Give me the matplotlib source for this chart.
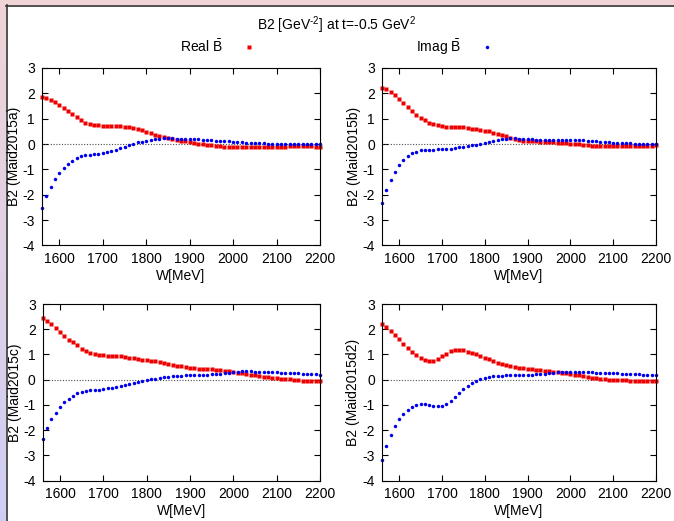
import matplotlib
matplotlib.use('Agg')
import matplotlib.pyplot as plt
import numpy as np

plt.rcParams['font.family'] = ['Liberation Sans', 'DejaVu Sans']
plt.rcParams['mathtext.fontset'] = 'custom'
plt.rcParams['mathtext.rm'] = 'Liberation Sans'
plt.rcParams['mathtext.it'] = 'Liberation Sans'
plt.rcParams['axes.unicode_minus'] = False

# W grid in MeV, 10 MeV steps
w = np.arange(1560, 2201, 10)

real_a = [1.86, 1.81, 1.75, 1.65, 1.55, 1.43, 1.31, 1.19, 1.06, 0.94,
          0.85, 0.79, 0.76, 0.76, 0.72, 0.72, 0.72, 0.72, 0.70, 0.68,
          0.67, 0.62, 0.58, 0.54, 0.49, 0.43, 0.35, 0.30, 0.26, 0.22,
          0.18, 0.16, 0.13,
          0.11, 0.07, 0.04, 0.01, -0.01, -0.03, -0.05, -0.07, -0.08, -0.10,
          -0.10, -0.11, -0.11, -0.11, -0.11, -0.11, -0.11, -0.11, -0.11, -0.11,
          -0.11, -0.10, -0.10, -0.10, -0.09, -0.09, -0.09, -0.09, -0.09, -0.09,
          -0.10, -0.10]
imag_a = [-2.51, -2.06, -1.68, -1.39, -1.14, -0.94, -0.77, -0.66, -0.56, -0.49,
          -0.45, -0.42, -0.41, -0.38, -0.35, -0.31, -0.28, -0.22, -0.17, -0.10,
          -0.04, 0.01, 0.07, 0.10, 0.14, 0.17, 0.20, 0.21, 0.22, 0.22,
          0.22, 0.21, 0.21, 0.20, 0.20, 0.19, 0.18, 0.17, 0.16, 0.15,
          0.14, 0.13, 0.12, 0.11, 0.10, 0.08, 0.07, 0.06, 0.05, 0.04,
          0.03, 0.03, 0.02, 0.02, 0.01, 0.01, 0.01, 0.01, 0.01, 0.01,
          0.01, 0.01, 0.01, 0.01, 0.01]

real_b = [2.22, 2.17, 2.07, 1.94, 1.78, 1.63, 1.47, 1.31, 1.15, 1.02,
          0.94, 0.84, 0.80, 0.76, 0.72, 0.68, 0.68, 0.66, 0.66, 0.66,
          0.63, 0.58, 0.58, 0.54, 0.52, 0.50, 0.45, 0.41, 0.35, 0.30,
          0.25, 0.20, 0.16,
          0.14, 0.13, 0.12, 0.11, 0.10, 0.09, 0.08, 0.07, 0.06, 0.05,
          0.04, 0.02, 0.01, -0.01, -0.03, -0.05, -0.07, -0.09,
          -0.09, -0.09, -0.09, -0.09, -0.09, -0.09, -0.09, -0.09, -0.09, -0.09,
          -0.08, -0.07, -0.06, -0.05]
imag_b = [-2.31, -1.82, -1.43, -1.10, -0.84, -0.64, -0.49, -0.37, -0.30, -0.25,
          -0.22, -0.22, -0.22, -0.21, -0.21, -0.20, -0.18, -0.16, -0.13, -0.10,
          -0.08, -0.05, -0.03, 0.00, 0.04, 0.08, 0.12, 0.16, 0.18, 0.21,
          0.22, 0.22,
          0.21, 0.20, 0.19, 0.18, 0.17, 0.17, 0.16, 0.16, 0.16, 0.16,
          0.16, 0.16, 0.16, 0.16, 0.16, 0.15, 0.14, 0.13, 0.12, 0.10,
          0.08, 0.07, 0.05, 0.04, 0.04, 0.03, 0.03, 0.02, 0.02, 0.01,
          0.01, 0.00, 0.00]

real_c = [2.43, 2.33, 2.19, 2.04, 1.87, 1.72, 1.59, 1.48, 1.36, 1.23,
          1.13, 1.05, 1.01, 0.99, 0.99, 0.95, 0.95, 0.93, 0.92, 0.89,
          0.87, 0.87, 0.83, 0.79, 0.79, 0.73, 0.72, 0.71, 0.67, 0.63,
          0.59, 0.56, 0.53,
          0.49, 0.47, 0.45, 0.43, 0.42, 0.41, 0.41, 0.40, 0.38, 0.36,
          0.34, 0.32, 0.28, 0.25, 0.22, 0.19, 0.17, 0.15, 0.12, 0.09,
          0.07, 0.05, 0.04, 0.04, 0.02, -0.01, -0.03, -0.04, -0.05, -0.05,
          -0.05, -0.05]
imag_c = [-2.37, -1.93, -1.56, -1.31, -1.08, -0.89, -0.76, -0.64, -0.53, -0.47,
          -0.44, -0.41, -0.41, -0.40, -0.37, -0.35, -0.32, -0.28, -0.24, -0.20,
          -0.16, -0.12, -0.09, -0.05, -0.01, 0.01, 0.04, 0.07, 0.11, 0.12,
          0.13, 0.15, 0.16,
          0.17, 0.18, 0.19, 0.19, 0.20, 0.20, 0.21, 0.22, 0.24, 0.26,
          0.28, 0.30, 0.32, 0.33, 0.33, 0.33, 0.32, 0.32, 0.31, 0.30,
          0.29, 0.29, 0.28, 0.27, 0.27, 0.26, 0.25, 0.24, 0.23, 0.22,
          0.21, 0.20]

real_d = [2.19, 2.07, 1.92, 1.76, 1.60, 1.43, 1.27, 1.11, 0.99, 0.87,
          0.79, 0.75, 0.75, 0.83, 0.92, 1.03, 1.12, 1.16, 1.19, 1.16,
          1.11, 1.05, 1.00, 0.93, 0.87, 0.80, 0.73, 0.68, 0.63, 0.59,
          0.55, 0.51, 0.47,
          0.45, 0.43, 0.41, 0.39, 0.37, 0.36, 0.34, 0.32, 0.30, 0.28,
          0.25, 0.23, 0.20, 0.17, 0.14, 0.11, 0.08, 0.05, 0.03, 0.01,
          0.00, -0.01, -0.02, -0.03, -0.03, -0.04, -0.04, -0.04, -0.05, -0.05,
          -0.05, -0.05]
imag_d = [-3.20, -2.64, -2.19, -1.84, -1.56, -1.35, -1.19, -1.08, -1.01, -0.97,
          -0.97, -1.00, -1.04, -1.05, -1.04, -0.96, -0.83, -0.68, -0.52, -0.39,
          -0.25, -0.15, -0.04, 0.04, 0.08, 0.12, 0.15, 0.16, 0.16, 0.17,
          0.17, 0.17, 0.19,
          0.19, 0.20, 0.20, 0.21, 0.22, 0.24, 0.26, 0.28, 0.29, 0.30,
          0.31, 0.31, 0.32, 0.32, 0.31, 0.30, 0.29, 0.28, 0.27, 0.27,
          0.26, 0.25, 0.25, 0.24, 0.23, 0.22, 0.22, 0.21, 0.20, 0.20,
          0.19, 0.19]

models = ['Maid2015a', 'Maid2015b', 'Maid2015c', 'Maid2015d2']
reals = [real_a, real_b, real_c, real_d]
imags = [imag_a, imag_b, imag_c, imag_d]

# axes rectangles [left, bottom, width, height] in figure fractions
boxes = [[0.0623, 0.5288, 0.4125, 0.3407],
         [0.5668, 0.5288, 0.4065, 0.3407],
         [0.0633, 0.0777, 0.4115, 0.3388],
         [0.5668, 0.0777, 0.4065, 0.3388]]
# horizontal position of each y label, in axes fraction
ylabel_x = [-0.075, -0.077, -0.074, -0.080]

fig = plt.figure(figsize=(6.74, 5.21), dpi=100)

# window frame: pink top strip, pink-to-lavender left strip
frame = fig.add_axes([0, 0, 1, 1], zorder=-10)
frame.set_axis_off()
frame.set_xlim(0, 674)
frame.set_ylim(521, 0)
grad = np.linspace(0, 1, 256)[:, None, None]
top_col = np.array([0.94, 0.83, 0.84])
bot_col = np.array([0.81, 0.81, 0.96])
strip = top_col * (1 - grad) + bot_col * grad
frame.imshow(strip, extent=(0, 6, 521, 0), aspect='auto')
frame.add_patch(plt.Rectangle((0, 0), 674, 5, color=top_col, lw=0))
frame.plot([6.5, 6.5], [5, 521], color='#333333', lw=1.2)
frame.plot([6, 674], [5.5, 5.5], color='#333333', lw=1.2)

for box, name, re, im, lx in zip(boxes, models, reals, imags, ylabel_x):
    ax = fig.add_axes(box)
    ax.axhline(0, color='0.3', lw=0.8, ls=(0, (1, 1.5)))
    ax.plot(w, re, ls='none', marker='s', ms=2.8, color='#ee0000',
            mec='none', clip_on=False, label=r'Real $\bar{\mathrm{B}}$')
    ax.plot(w, im, ls='none', marker='o', ms=2.5, color='#0000ee',
            mec='none', clip_on=False, label=r'Imag $\bar{\mathrm{B}}$')
    ax.set_xlim(1560, 2200)
    ax.set_ylim(-4, 3)
    ax.set_xticks(range(1600, 2201, 100))
    ax.set_yticks(range(-4, 4))
    ax.tick_params(direction='in', top=True, right=True, length=4,
                   width=0.8, labelsize=10, pad=5)
    for s in ax.spines.values():
        s.set_linewidth(0.8)
    ax.set_xlabel('W[MeV]', fontsize=10, labelpad=2)
    ax.set_ylabel('B2 (%s)' % name, fontsize=10)
    ax.yaxis.set_label_coords(lx, 0.5)
    if name == 'Maid2015a':
        handles, labels = ax.get_legend_handles_labels()

fig.text(0.5, 0.952, r'B2 [GeV$^{\text{-}2}$] at t=-0.5 GeV$^{2}$',
         ha='center', va='center', fontsize=10)
fig.legend(handles, labels, loc='center', bbox_to_anchor=(0.5, 0.91),
           ncol=2, frameon=False, markerfirst=False, fontsize=10,
           handlelength=1, handletextpad=1.4, columnspacing=11.5)

fig.savefig('out.png', dpi=100)
